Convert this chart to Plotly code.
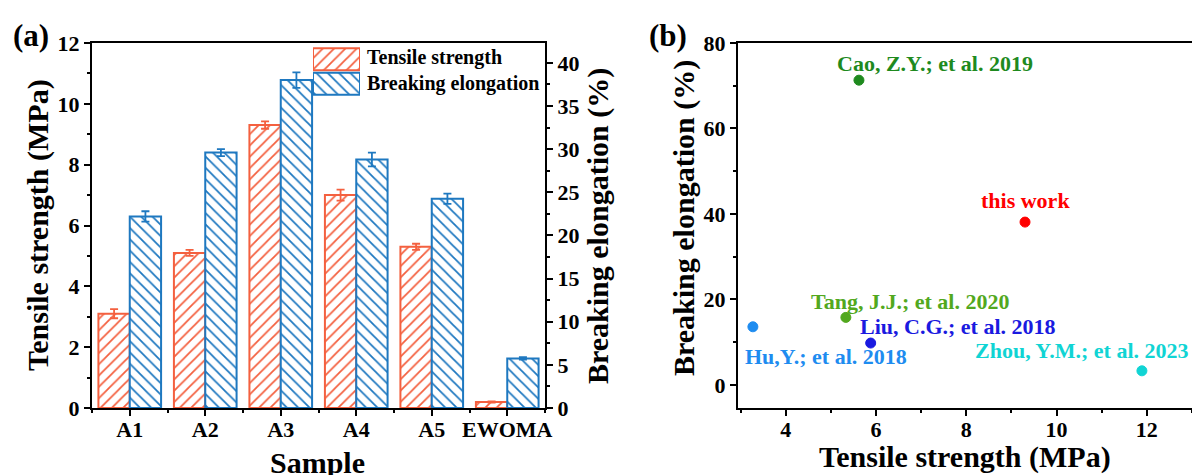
import plotly.graph_objects as go

samples = ["A1", "A2", "A3", "A4", "A5", "EWOMA"]
tensile = [3.1, 5.1, 9.3, 7.0, 5.3, 0.2]
tensile_err = [0.15, 0.1, 0.12, 0.18, 0.1, 0.02]
elong = [22.2, 29.6, 38.0, 28.8, 24.25, 5.75]
elong_err = [0.6, 0.4, 0.9, 0.8, 0.6, 0.15]
legend_names = ["Tensile strength", "Breaking elongation"]

refs = ["Cao, Z.Y.; et al. 2019", "this work", "Tang, J.J.; et al. 2020",
        "Liu, C.G.; et al. 2018", "Hu,Y.; et al. 2018", "Zhou, Y.M.; et al. 2023"]
ref_ts = [5.62, 9.3, 5.33, 5.88, 3.27, 11.89]
ref_el = [71.3, 38.1, 15.8, 9.8, 13.6, 3.3]
ref_colors = ["#1E8A1E", "#FF0000", "#52A81E", "#1A1AE0", "#1E8CF0", "#10D4D4"]
label_shift = [(76, 17), (0, 22), (64, 16), (87, 17), (73, -30), (-60, 20)]

FONT = "Liberation Serif"
RED = "#F4603F"
BLUE = "#1E78C0"
W, H = 1192, 475

def px(x):
    return x / W

def py(y):
    return 1 - y / H

xs = list(range(len(samples)))
fig = go.Figure()

fig.add_trace(go.Bar(
    x=xs, y=tensile, name=legend_names[0], offsetgroup="1",
    xaxis="x", yaxis="y",
    marker=dict(color="white", line=dict(color=RED, width=2),
                pattern=dict(shape="/", fgcolor=RED, bgcolor="white", size=8,
                             solidity=0.22, fgopacity=1)),
    error_y=dict(type="data", array=tensile_err, color=RED, thickness=1.8, width=4),
))
fig.add_trace(go.Bar(
    x=xs, y=elong, name=legend_names[1], offsetgroup="2",
    xaxis="x", yaxis="y2",
    marker=dict(color="white", line=dict(color=BLUE, width=2),
                pattern=dict(shape="\\", fgcolor=BLUE, bgcolor="white", size=8,
                             solidity=0.22, fgopacity=1)),
    error_y=dict(type="data", array=elong_err, color=BLUE, thickness=1.8, width=4),
))

# legend swatches (hatched boxes)
fig.add_trace(go.Bar(
    x=[1, 1], y=[1, 0], orientation="h", xaxis="x4", yaxis="y4", width=0.9,
    marker=dict(color="white", line=dict(color=[RED, BLUE], width=2),
                pattern=dict(shape=["/", "\\"], fgcolor=[RED, BLUE], bgcolor="white",
                             size=8, solidity=0.22, fgopacity=1)),
    hoverinfo="skip",
))
for i, nm in enumerate(legend_names):
    fig.add_annotation(x=px(365), y=py(58 + 25 * i), xref="paper", yref="paper", text=nm,
                       showarrow=False, xanchor="left", yanchor="middle",
                       font=dict(family=FONT, size=20, color="black", weight="bold"))

for i in range(len(refs)):
    fig.add_trace(go.Scatter(
        x=[ref_ts[i]], y=[ref_el[i]], mode="markers", xaxis="x3", yaxis="y3",
        marker=dict(size=10, color=ref_colors[i], line=dict(color=ref_colors[i], width=1)),
    ))
    dx, dy = label_shift[i]
    fig.add_annotation(
        x=ref_ts[i], y=ref_el[i], xref="x3", yref="y3", text=refs[i], showarrow=False,
        xshift=dx, yshift=dy,
        font=dict(family=FONT, size=22, color=ref_colors[i], weight="bold"),
    )

tickfont = dict(family=FONT, size=22, color="black", weight="bold")
titlefont = dict(family=FONT, size=30, color="black", weight="bold")
minor_style = dict(ticklen=3, tickwidth=1.5, tickcolor="black", ticks="outside")

common = dict(showline=True, linecolor="black", linewidth=2, ticks="outside", ticklen=6,
              tickwidth=2, tickcolor="black", tickfont=tickfont, showgrid=False,
              zeroline=False, automargin=False)

fig.update_layout(
    width=W, height=H, margin=dict(l=0, r=0, t=0, b=0),
    plot_bgcolor="white", paper_bgcolor="white",
    barmode="group", bargap=0.17, bargroupgap=0,
    showlegend=False,
    xaxis=dict(domain=[px(92), px(545)], anchor="y", range=[-0.5, 5.5], mirror=True,
               tickmode="array", tickvals=xs, ticktext=samples, ticklabelstandoff=-5,
               minor=dict(tickmode="linear", tick0=0.5, dtick=1, **minor_style), **common),
    yaxis=dict(domain=[py(408), py(43)], anchor="x", range=[0, 12], dtick=2,
               minor=dict(dtick=1, **minor_style), **common),
    yaxis2=dict(overlaying="y", side="right", anchor="x", range=[0, 42.3], dtick=5,
                minor=dict(dtick=2.5, **minor_style), **common),
    xaxis3=dict(domain=[px(738), 1.0], anchor="y3", range=[2.94, 13], dtick=2, mirror=True,
                ticklabelstandoff=-5,
                minor=dict(dtick=1, **minor_style), **common),
    yaxis3=dict(domain=[py(408), py(43)], anchor="x3", range=[-5.4, 80], dtick=20, mirror=True,
                minor=dict(dtick=10, **minor_style), **common),
    xaxis4=dict(domain=[px(313), px(360)], anchor="y4", range=[0, 1], visible=False),
    yaxis4=dict(domain=[py(96), py(47)], anchor="x4", range=[-0.5, 1.5], visible=False),
)

def title(x, y, text, angle=0):
    fig.add_annotation(x=px(x), y=py(y), xref="paper", yref="paper", text=text,
                       showarrow=False, xanchor="center", yanchor="middle", textangle=angle,
                       font=titlefont)

title(38, 225, "Tensile strength (MPa)", -90)
title(598, 226, "Breaking elongation (%)", -90)
title(318, 462, "Sample")
title(684, 218, "Breaking elongation (%)", -90)
title(965, 457, "Tensile strength (MPa)")

fig.add_annotation(x=px(31), y=py(35), xref="paper", yref="paper", text="(a)", showarrow=False,
                   xanchor="center", yanchor="middle",
                   font=dict(family=FONT, size=31, color="black", weight="bold"))
fig.add_annotation(x=px(668), y=py(35), xref="paper", yref="paper", text="(b)", showarrow=False,
                   xanchor="center", yanchor="middle",
                   font=dict(family=FONT, size=31, color="black", weight="bold"))

fig.write_html("out.html")
